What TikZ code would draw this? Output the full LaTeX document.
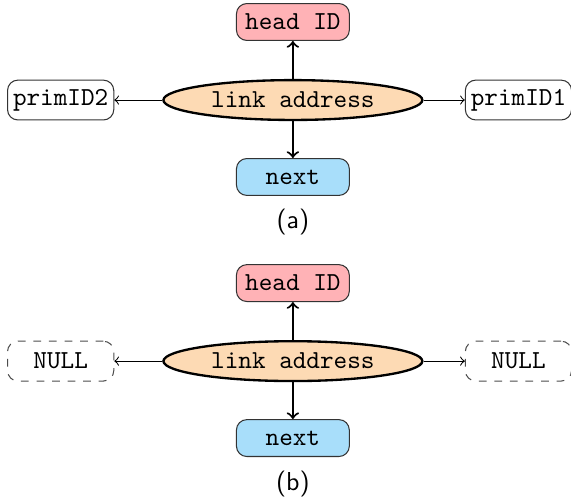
\documentclass[tikz,border=0pt]{standalone}
\usepackage{pgf, tikz}
\usetikzlibrary{positioning, shapes.geometric}
\definecolor{headred}{RGB}{255,178,182}
\definecolor{nextblue}{RGB}{168,222,250}
\definecolor{linkorange}{RGB}{253,218,180}
\tikzset{
    headnode/.style={
        rectangle,
        rounded corners=4pt,
        draw=black!80, % 边框颜色
        fill=headred, % 填充颜色为浅红
        minimum width=1.53cm,
        minimum height=0.5cm,
        inner sep=0,
        font=\ttfamily
    },
    nextnode/.style={
        rectangle,
        rounded corners=4pt,
        draw=black!80, % 边框颜色
        fill=nextblue, % 填充颜色为浅蓝
        minimum width=1.53cm,
        minimum height=0.5cm,
        inner sep=0,
        font=\ttfamily
    },
    linknode/.style={
        ellipse,
        draw, % 边框颜色
        fill=linkorange, % 填充颜色为浅橙
        line width=0.9pt, % 边框加粗
        minimum width=3.51cm,
        minimum height=0.54cm,
        inner sep=0,
        font=\ttfamily
    },
    primnode/.style={
        rectangle,
        rounded corners=4pt,
        draw=black!80,
        minimum width=1.44cm,
        minimum height=0.54cm,
        inner sep=0,
        font=\ttfamily
    },
    nullnode/.style={
        primnode,
        dashed, % 虚线边框
        draw=black!70
    }
}

\begin{document}
\begin{tikzpicture}[
                mainarrow/.style={->, thick},
                sidearrow/.style={->}
            ]
            \useasboundingbox (0,0) rectangle (7.74,-6.75);
            % (a) 带有 primID 的链接
            \node[linknode] (linkA) at (3.97,-1.356) {link address};
            \node[headnode, above=0.515cm of linkA] (headA) {head ID};
            \node[nextnode, below=0.5cm of linkA] (nextA) {next};
            \node[primnode, left=0.65cm of linkA] (primtwo) {primID2};
            \node[primnode, right=0.56cm of linkA] (primone) {primID1};
            \node[below=0.06cm of nextA, font=\sffamily] (capA) {(a)};
            \draw[mainarrow] (linkA) -- (headA);
            \draw[mainarrow] (linkA) -- (nextA);
            \draw[sidearrow] (linkA) -- (primtwo);
            \draw[sidearrow] (linkA) -- (primone);
            % (b) 指向 NULL 的链接
            \node[linknode] (linkB) at (3.97,-4.895) {link address};
            \node[headnode, above=0.515cm of linkB] (headB) {head ID};
            \node[nextnode, below=0.5cm of linkB] (nextB) {next};
            \node[nullnode, left=0.65cm of linkB] (nullleft) {NULL};
            \node[nullnode, right=0.56cm of linkB] (nullright) {NULL};
            \node[below=0.06cm of nextB, font=\sffamily] (capB) {(b)};
            \draw[mainarrow] (linkB) -- (headB);
            \draw[mainarrow] (linkB) -- (nextB);
            \draw[sidearrow] (linkB) -- (nullleft);
            \draw[sidearrow] (linkB) -- (nullright);
\end{tikzpicture}
\end{document}
